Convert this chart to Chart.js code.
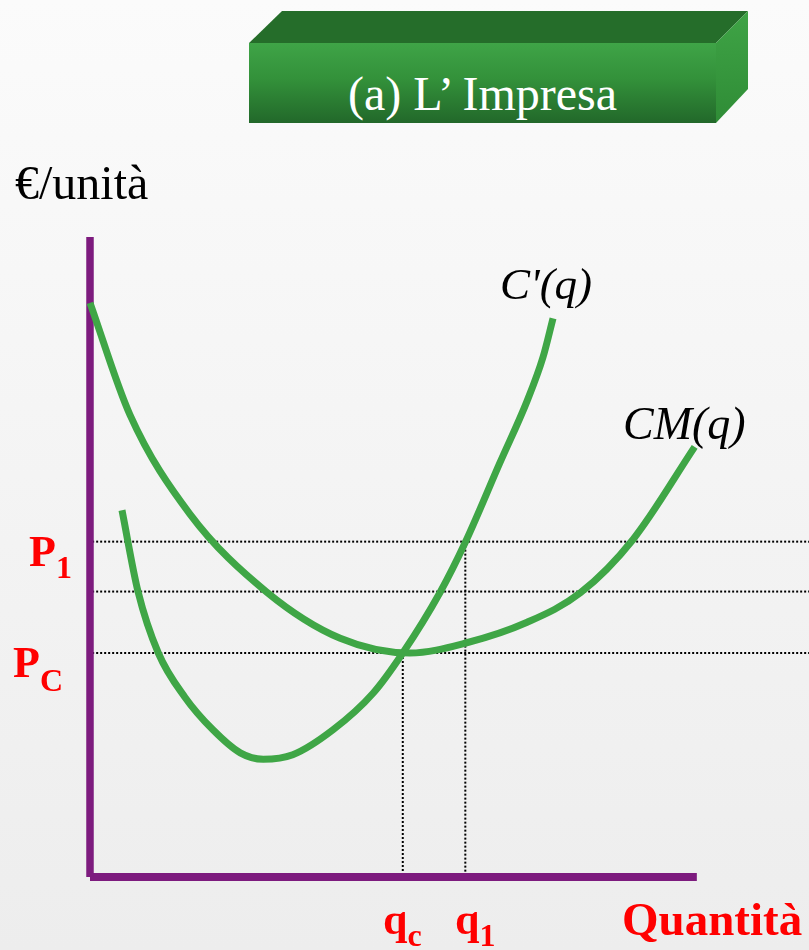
<!DOCTYPE html>
<html>
<head>
<meta charset="utf-8">
<script src="https://cdn.jsdelivr.net/npm/chart.js@4.4.1/dist/chart.umd.min.js"></script>
<style>
  html, body { margin: 0; padding: 0; }
  body {
    width: 809px; height: 950px; overflow: hidden; position: relative;
    background: linear-gradient(#fbfbfb, #ededed);
  }
  #chart { position: absolute; left: 0; top: 0; }
  .lbl, #title { font-family: 'Liberation Serif', 'DejaVu Serif', serif; }
  .lbl { position: absolute; line-height: 1; white-space: nowrap; color: #000; }
  .red { color: #ff0000; font-weight: bold; }
  .sub { font-size: 32px; position: relative; top: 12px; }
  #box { position: absolute; left: 249px; top: 11px; width: 499px; height: 112px; }
  #box .top { position: absolute; inset: 0; background: #256d2a;
    clip-path: polygon(0 32px, 33px 0, 499px 0, 467px 32px); }
  #box .side { position: absolute; inset: 0; background: linear-gradient(#3fa446, #2f8c36);
    clip-path: polygon(467px 32px, 499px 0, 499px 78px, 467px 112px); }
  #box .front { position: absolute; left: 0; top: 32px; width: 467px; height: 80px;
    background: linear-gradient(#3fa447, #33913a 45%, #22682a); }
  #title { position: absolute; left: 249px; width: 467px; top: 70px; text-align: center;
    color: #fff; font-size: 48px; line-height: 1; }
</style>
</head>
<body>
<div id="box"><div class="top"></div><div class="side"></div><div class="front"></div></div>
<div id="title">(a) L’ Impresa</div>

<canvas id="chart" width="809" height="950"></canvas>

<div class="lbl" style="left:15px; top:159px; font-size:48px;">€/unità</div>
<div class="lbl" style="left:500px; top:262px; font-size:45px; font-style:italic;">C'(q)</div>
<div class="lbl" style="left:623px; top:401px; font-size:46px; font-style:italic;">CM(q)</div>
<div class="lbl red" style="left:29px; top:530px; font-size:44px;">P<span class="sub">1</span></div>
<div class="lbl red" style="left:13px; top:641px; font-size:44px;">P<span class="sub" style="top:14px">C</span></div>
<div class="lbl red" style="left:383px; top:898px; font-size:44px;">q<span class="sub">c</span></div>
<div class="lbl red" style="left:455px; top:898px; font-size:44px;">q<span class="sub">1</span></div>
<div class="lbl red" style="left:622px; top:896px; font-size:47px;">Quantità</div>

<script>
// quantità (x) and €/unità (y), both on a 0-100 scale
// CM(q): costo medio
var cmX = [0, 5.56, 13.9, 24.6, 34.8, 44.5, 52.4, 60.8, 68.2, 75.5, 84.1];
var cmY = [89.7, 72.2, 56.7, 44.5, 37.3, 35.0, 36.6, 39.8, 44.4, 52.7, 67.2];

// C'(q): costo marginale
var cmgX = [4.45, 6.7, 9.5, 13.2, 17.1, 20.9, 24.1, 28.2, 33.8, 39.4, 43.5, 48.7, 52.2, 57.0, 60.8, 63.0, 64.4];
var cmgY = [57.3, 44.5, 35.0, 28.1, 23.0, 19.4, 18.4, 19.1, 23.0, 28.75, 35.0, 44.5, 52.3, 64.7, 74.4, 81.2, 87.3];

// price levels: P1, middle, Pc
var levels = [52.4, 44.6, 35.0];
// quantities: qc, q1 and the price each one reaches
var qVals = [43.5, 52.2];
var qTops = [35.0, 52.4];

var axisEndX = 84.4;

function pts(xs, ys) {
  return xs.map(function (x, i) { return { x: x, y: ys[i] }; });
}

var green = '#3fa646';
var purple = '#7d1b7e';

var datasets = [];
datasets.push({ data: pts(cmX, cmY), borderColor: green, borderWidth: 7, cubicInterpolationMode: 'monotone', borderCapStyle: 'butt' });
datasets.push({ data: pts(cmgX, cmgY), borderColor: green, borderWidth: 7, cubicInterpolationMode: 'monotone', borderCapStyle: 'butt' });
datasets.push({ data: [{ x: 0, y: 0 }, { x: 0, y: 100 }], borderColor: purple, borderWidth: 7.5 });
datasets.push({ data: [{ x: 0, y: 0 }, { x: axisEndX, y: 0 }], borderColor: purple, borderWidth: 8 });
levels.forEach(function (l) {
  datasets.push({ data: [{ x: 0.3, y: l }, { x: 100, y: l }], borderColor: '#000', borderWidth: 2, borderDash: [2, 2] });
});
qVals.forEach(function (q, i) {
  datasets.push({ data: [{ x: q, y: qTops[i] }, { x: q, y: 0 }], borderColor: '#000', borderWidth: 2, borderDash: [2, 2] });
});
datasets.forEach(function (d) {
  d.pointRadius = 0; d.clip = false; d.fill = false;
});

new Chart(document.getElementById('chart').getContext('2d'), {
  type: 'line',
  data: { datasets: datasets },
  options: {
    responsive: false,
    animation: false,
    events: [],
    layout: { padding: { left: 90, right: 0, top: 237, bottom: 73 } },
    plugins: { legend: { display: false }, tooltip: { enabled: false } },
    scales: {
      x: { type: 'linear', min: 0, max: 100, display: false },
      y: { type: 'linear', min: 0, max: 100, display: false }
    }
  }
});
</script>
</body>
</html>
